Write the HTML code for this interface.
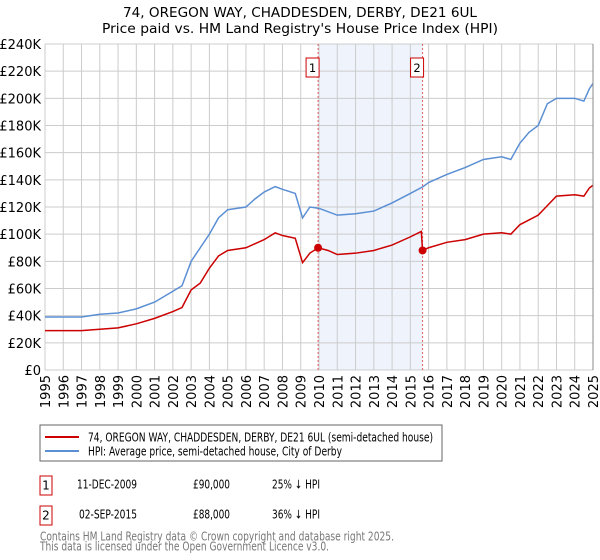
<!DOCTYPE html>
<html><head><meta charset="utf-8"><style>
body{margin:0;background:#fff;font-family:"Liberation Sans","DejaVu Sans",sans-serif;}
svg{display:block}
</style></head><body>
<svg id="c" width="600" height="560" xmlns="http://www.w3.org/2000/svg" font-family="DejaVu Sans, Liberation Sans, sans-serif">
<text x="300" y="17" text-anchor="middle" font-size="13" fill="#000" textLength="354" lengthAdjust="spacingAndGlyphs">74, OREGON WAY, CHADDESDEN, DERBY, DE21 6UL</text>
<text x="300" y="33" text-anchor="middle" font-size="13" fill="#000" textLength="396" lengthAdjust="spacingAndGlyphs">Price paid vs. HM Land Registry's House Price Index (HPI)</text>
<g id="grid"></g><g id="marks"></g><g id="axes"></g>
<rect x="40" y="425" width="402" height="36" fill="#fff" stroke="#666"/>
<line x1="45" y1="437" x2="79" y2="437" stroke="#cc0000" stroke-width="2"/>
<text x="88" y="441.5" font-size="12" textLength="345" lengthAdjust="spacingAndGlyphs">74, OREGON WAY, CHADDESDEN, DERBY, DE21 6UL (semi-detached house)</text>
<line x1="45" y1="451" x2="79" y2="451" stroke="#5b8fd4" stroke-width="2"/>
<text x="88" y="455.5" font-size="12" textLength="254" lengthAdjust="spacingAndGlyphs">HPI: Average price, semi-detached house, City of Derby</text>
<rect x="40" y="476" width="12" height="19" fill="#fff" stroke="#cc0000"/>
<text x="46" y="489.5" text-anchor="middle" font-size="12">1</text>
<text x="77" y="488.5" font-size="12" textLength="60" lengthAdjust="spacingAndGlyphs">11-DEC-2009</text>
<text x="193" y="488.5" font-size="12" textLength="37" lengthAdjust="spacingAndGlyphs">£90,000</text>
<text x="272" y="488.5" font-size="12" textLength="48" lengthAdjust="spacingAndGlyphs">25% ↓ HPI</text>
<rect x="40" y="506" width="12" height="19" fill="#fff" stroke="#cc0000"/>
<text x="46" y="519.5" text-anchor="middle" font-size="12">2</text>
<text x="79" y="518.5" font-size="12" textLength="58" lengthAdjust="spacingAndGlyphs">02-SEP-2015</text>
<text x="193" y="518.5" font-size="12" textLength="37" lengthAdjust="spacingAndGlyphs">£88,000</text>
<text x="272" y="518.5" font-size="12" textLength="48" lengthAdjust="spacingAndGlyphs">36% ↓ HPI</text>
<text x="40" y="540.5" font-size="12" fill="#777" textLength="354" lengthAdjust="spacingAndGlyphs">Contains HM Land Registry data © Crown copyright and database right 2025.</text>
<text x="40" y="550.5" font-size="12" fill="#777" textLength="289" lengthAdjust="spacingAndGlyphs">This data is licensed under the Open Government Licence v3.0.</text>
</svg>
<script>
const hpiYears=[1995,1996,1997,1998,1999,2000,2001,2002,2002.5,2003,2004,2004.5,2005,2006,2006.5,2007,2007.6,2008,2008.7,2009.1,2009.5,2010,2011,2012,2013,2014,2015,2015.7,2016,2017,2018,2019,2020,2020.5,2021,2021.5,2022,2022.5,2023,2024,2024.5,2024.8,2025];
const hpiValues=[39,39,39,41,42,45,50,58,62,80,100,112,118,120,126,131,135,133,130,112,120,119,114,115,117,123,130,135,138,144,149,155,157,155,167,175,180,196,200,200,198,207,211];
const propYears=[1995,1996,1997,1998,1999,2000,2001,2002,2002.5,2003,2003.5,2004,2004.5,2005,2006,2007,2007.6,2008,2008.7,2009.1,2009.5,2009.95,2010.5,2011,2012,2013,2014,2015,2015.6,2015.67,2016,2017,2018,2019,2020,2020.5,2021,2022,2022.5,2023,2024,2024.5,2024.8,2025];
const propValues=[29,29,29,30,31,34,38,43,46,59,64,75,84,88,90,96,101,99,97,79,86,90,88,85,86,88,92,98,102,88,90,94,96,100,101,100,107,114,121,128,129,128,134,136];
const saleYears=[2009.95,2015.67];
const saleValues=[90,88];
const saleLabels=["1","2"];
const yTicks=[0,20,40,60,80,100,120,140,160,180,200,220,240];
const xTicks=[1995,1996,1997,1998,1999,2000,2001,2002,2003,2004,2005,2006,2007,2008,2009,2010,2011,2012,2013,2014,2015,2016,2017,2018,2019,2020,2021,2022,2023,2024,2025];
const X0=45,X1=593,Y0=370,Y1=44;
const xs=y=>X0+(y-1995)/30*(X1-X0);
const ys=v=>Y0-v/240*(Y0-Y1);
const NS="http://www.w3.org/2000/svg";
function mk(tag,attrs,parent){const e=document.createElementNS(NS,tag);for(const k in attrs)e.setAttribute(k,attrs[k]);parent.appendChild(e);return e;}
const grid=document.getElementById('grid'),marks=document.getElementById('marks'),axes=document.getElementById('axes');
const band=mk('rect',{x:xs(saleYears[0]),y:Y1,width:xs(saleYears[1])-xs(saleYears[0]),height:Y0-Y1,fill:'#eef3fc'},grid);


yTicks.forEach(v=>{
 const l=mk('line',{x1:X0,x2:X1,y1:ys(v),y2:ys(v),stroke:'#ccc'},grid);
 
 
 const t=mk('text',{x:X0-4,y:ys(v)+5,'text-anchor':'end','font-size':'13'},axes);
 t.textContent='£'+v+(v?'K':'');
 
 
});
xTicks.forEach(y=>{
 const l=mk('line',{x1:xs(y),x2:xs(y),y1:Y1,y2:Y0,stroke:'#ccc'},grid);
 
 
 const t=mk('text',{x:0,y:0,'text-anchor':'end','font-size':'13',transform:`translate(${xs(y)+5},375) rotate(-90)`},axes);
 t.textContent=y;
 
 
});
const rx=mk('line',{x1:X1,x2:X1,y1:Y1,y2:Y0,stroke:'#888'},axes);


saleYears.forEach((y,i)=>{
 const l=mk('line',{x1:xs(y),x2:xs(y),y1:Y1,y2:Y0,stroke:'#e06060','stroke-dasharray':'2,2'},marks);
 
 
 const b=mk('rect',{x:xs(y)-12,y:58,width:13,height:19,fill:'#fff',stroke:'#cc0000'},marks);
 
 
 const t=mk('text',{x:xs(y)-5.5,y:72,'text-anchor':'middle','font-size':'11.5'},marks);
 t.textContent=saleLabels[i];
 
 
});
const hp=mk('polyline',{points:hpiYears.map((y,i)=>xs(y)+','+ys(hpiValues[i])).join(' '),fill:'none',stroke:'#5b8fd4','stroke-width':'1.5'},marks);


const pp=mk('polyline',{points:propYears.map((y,i)=>xs(y)+','+ys(propValues[i])).join(' '),fill:'none',stroke:'#cc0000','stroke-width':'1.5'},marks);


saleYears.forEach((y,i)=>{
 const d=mk('circle',{cx:xs(y),cy:ys(saleValues[i]),r:4,fill:'#cc0000'},marks);
 
 
});
</script>
</body></html>
